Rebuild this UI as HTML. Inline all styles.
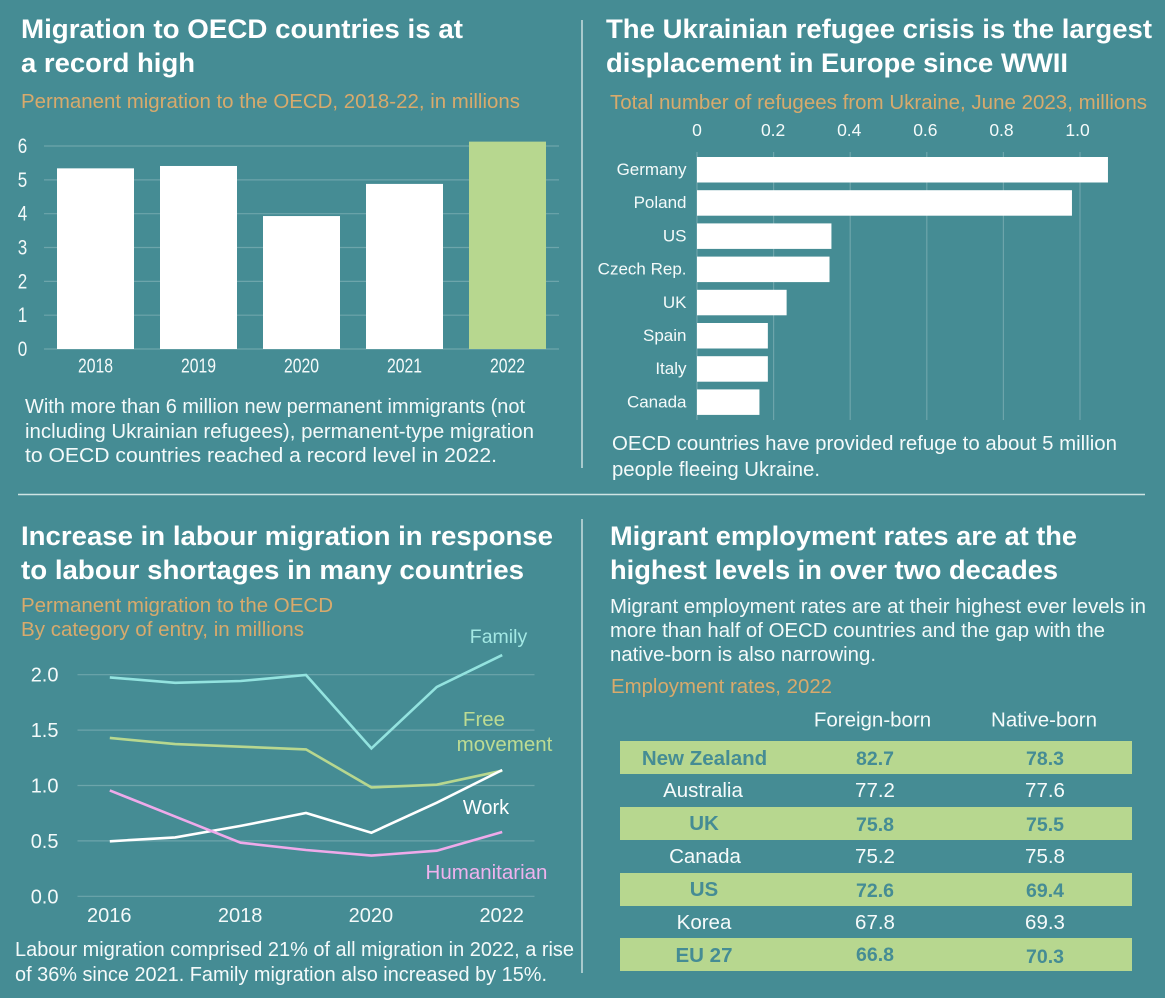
<!DOCTYPE html>
<html lang="en">
<head>
<meta charset="utf-8">
<title>Migration to OECD countries</title>
<style>
html,body{margin:0;padding:0;background:#458c94;}
svg{display:block;font-family:"Liberation Sans",Arial,sans-serif;filter:blur(0.35px);}
.title{font-size:27px;font-weight:700;fill:#fff;}
.sub{font-size:20px;fill:#d8aa6c;}
.note{font-size:20px;fill:#f4fafa;}
.hd{font-size:20.5px;fill:#f4fafa;text-anchor:middle;}
.gc{font-size:20.5px;fill:#458c94;text-anchor:middle;font-weight:700;}
.gv{font-size:19.5px;fill:#458c94;text-anchor:middle;font-weight:700;}
.wc{font-size:20.5px;fill:#f6fbfb;text-anchor:middle;}
</style>
</head>
<body>
<svg id="page" width="1165" height="998" viewBox="0 0 1165 998" xmlns="http://www.w3.org/2000/svg">
<rect width="1165" height="998" fill="#458c94"/>
<line x1="582" y1="20" x2="582" y2="468" stroke="#dcecec" stroke-width="1.3"/>
<line x1="582" y1="519" x2="582" y2="973" stroke="#dcecec" stroke-width="1.3"/>
<line x1="18" y1="494.500" x2="1145" y2="494.500" stroke="#cfe4e4" stroke-width="1.5"/>

<text class="title" x="21" y="38" textLength="442" lengthAdjust="spacingAndGlyphs">Migration to OECD countries is at</text>
<text class="title" x="21" y="72" textLength="174" lengthAdjust="spacingAndGlyphs">a record high</text>
<text class="sub" x="21" y="108" textLength="499" lengthAdjust="spacingAndGlyphs">Permanent migration to the OECD, 2018-22, in millions</text>
<g id="chart-bars"></g>
<text class="note" x="25" y="413" textLength="500" lengthAdjust="spacingAndGlyphs">With more than 6 million new permanent immigrants (not</text>
<text class="note" x="25" y="438" textLength="509" lengthAdjust="spacingAndGlyphs">including Ukrainian refugees), permanent-type migration</text>
<text class="note" x="25" y="462" textLength="472" lengthAdjust="spacingAndGlyphs">to OECD countries reached a record level in 2022.</text>

<text class="title" x="606" y="38" textLength="546" lengthAdjust="spacingAndGlyphs">The Ukrainian refugee crisis is the largest</text>
<text class="title" x="606" y="72" textLength="462" lengthAdjust="spacingAndGlyphs">displacement in Europe since WWII</text>
<text class="sub" x="610" y="109" textLength="537" lengthAdjust="spacingAndGlyphs">Total number of refugees from Ukraine, June 2023, millions</text>
<g id="chart-refugees"></g>
<text class="note" x="612" y="450" textLength="505" lengthAdjust="spacingAndGlyphs">OECD countries have provided refuge to about 5 million</text>
<text class="note" x="612" y="476" textLength="208" lengthAdjust="spacingAndGlyphs">people fleeing Ukraine.</text>

<text class="title" x="21" y="545" textLength="532" lengthAdjust="spacingAndGlyphs">Increase in labour migration in response</text>
<text class="title" x="21" y="579" textLength="503" lengthAdjust="spacingAndGlyphs">to labour shortages in many countries</text>
<text class="sub" x="21" y="612" textLength="312" lengthAdjust="spacingAndGlyphs">Permanent migration to the OECD</text>
<text class="sub" x="21" y="636" textLength="283" lengthAdjust="spacingAndGlyphs">By category of entry, in millions</text>
<g id="chart-lines"></g>
<text class="note" x="15" y="956" textLength="559" lengthAdjust="spacingAndGlyphs">Labour migration comprised 21% of all migration in 2022, a rise</text>
<text class="note" x="15" y="981" textLength="532" lengthAdjust="spacingAndGlyphs">of 36% since 2021. Family migration also increased by 15%.</text>

<text class="title" x="610" y="545" textLength="467" lengthAdjust="spacingAndGlyphs">Migrant employment rates are at the</text>
<text class="title" x="610" y="579" textLength="448" lengthAdjust="spacingAndGlyphs">highest levels in over two decades</text>
<text class="note" x="610" y="613" textLength="536" lengthAdjust="spacingAndGlyphs">Migrant employment rates are at their highest ever levels in</text>
<text class="note" x="610" y="637" textLength="495" lengthAdjust="spacingAndGlyphs">more than half of OECD countries and the gap with the</text>
<text class="note" x="610" y="661" textLength="266" lengthAdjust="spacingAndGlyphs">native-born is also narrowing.</text>
<text class="sub" x="611" y="693" textLength="221" lengthAdjust="spacingAndGlyphs">Employment rates, 2022</text>

<g>
<text class="hd" x="872.5" y="726.500">Foreign-born</text>
<text class="hd" x="1044" y="726.500">Native-born</text>
<rect x="620" y="741" width="512" height="33" fill="#b7d78f"/>
<rect x="620" y="807" width="512" height="33" fill="#b7d78f"/>
<rect x="620" y="873" width="512" height="33" fill="#b7d78f"/>
<rect x="620" y="938" width="512" height="33" fill="#b7d78f"/>
<text class="gc" x="704.5" y="765">New Zealand</text>
<text class="gv" x="875" y="765">82.7</text>
<text class="gv" x="1045" y="765">78.3</text>
<text class="wc" x="703" y="797">Australia</text>
<text class="wc" x="875" y="797">77.2</text>
<text class="wc" x="1045" y="797">77.6</text>
<text class="gc" x="704" y="830">UK</text>
<text class="gv" x="875" y="831">75.8</text>
<text class="gv" x="1045" y="831">75.5</text>
<text class="wc" x="705" y="863">Canada</text>
<text class="wc" x="875" y="863">75.2</text>
<text class="wc" x="1045" y="863">75.8</text>
<text class="gc" x="704" y="896">US</text>
<text class="gv" x="875" y="897">72.6</text>
<text class="gv" x="1045" y="897">69.4</text>
<text class="wc" x="704" y="929">Korea</text>
<text class="wc" x="875" y="929">67.8</text>
<text class="wc" x="1045" y="929">69.3</text>
<text class="gc" x="704" y="962">EU 27</text>
<text class="gv" x="875" y="961">66.8</text>
<text class="gv" x="1045" y="963">70.3</text>
</g>
</svg>

<script>
var yearCategories = ['2018', '2019', '2020', '2021', '2022'];
var yearValues = [5.34, 5.41, 3.93, 4.88, 6.13];
var yearTicks = [0, 1, 2, 3, 4, 5, 6];

var refugeeCountries = ['Germany', 'Poland', 'US', 'Czech Rep.', 'UK', 'Spain', 'Italy', 'Canada'];
var refugeeValues = [1.073, 0.979, 0.351, 0.346, 0.234, 0.185, 0.185, 0.163];
var refugeeTicks = [0, 0.2, 0.4, 0.6, 0.8, 1.0];
var refugeeTickLabels = ['0', '0.2', '0.4', '0.6', '0.8', '1.0'];

var lineYears = [2016, 2017, 2018, 2019, 2020, 2021, 2022];
var lineXTicks = [2016, 2018, 2020, 2022];
var lineYTicks = [0, 0.5, 1, 1.5, 2];
var lineYTickLabels = ['0.0', '0.5', '1.0', '1.5', '2.0'];
var familySeries = [1.976, 1.927, 1.943, 1.997, 1.335, 1.89, 2.177];
var freeMovementSeries = [1.43, 1.374, 1.35, 1.326, 0.983, 1.007, 1.134];
var workSeries = [0.496, 0.532, 0.635, 0.752, 0.574, 0.845, 1.14];
var humanitarianSeries = [0.956, 0.719, 0.484, 0.418, 0.367, 0.412, 0.58];

var SVGNS = 'http://www.w3.org/2000/svg';
var GRID = 'rgba(255,255,255,0.22)';

function make(parent, tag, props) {
  var el = document.createElementNS(SVGNS, tag);
  for (var k in props) { el.setAttribute(k, props[k]); }
  parent.appendChild(el);
  return el;
}

/* ---------- Chart 1: annual migration ---------- */
(function () {
  var g = document.getElementById('chart-bars');
  function y(v) { return 349 - v * 33.83; }
  function xCenter(i) { return 95.5 + i * 103; }
  yearTicks.forEach(function (t) {
    var el = make(g, 'line', {x1: 44, x2: 559, y1: y(t), y2: y(t), stroke: GRID, 'stroke-width': 1.2});
    
    
    var lab = make(g, 'text', {x: 22.5, y: y(t) + 7, 'font-size': 21, fill: '#f4fafa', 'text-anchor': 'middle', textLength: 9.5, lengthAdjust: 'spacingAndGlyphs'});
    lab.textContent = String(t);
    
    
  });
  yearCategories.forEach(function (c, i) {
    var top = y(yearValues[i]);
    var b = make(g, 'rect', {x: xCenter(i) - 38.5, y: top, width: 77, height: y(0) - top, fill: i === 4 ? '#b7d78f' : '#ffffff'});
    
    
    var lab = make(g, 'text', {x: xCenter(i), y: 372.5, 'font-size': 20.5, fill: '#f4fafa', 'text-anchor': 'middle', textLength: 35, lengthAdjust: 'spacingAndGlyphs'});
    lab.textContent = c;
    
    
  });
})();

/* ---------- Chart 2: refugees ---------- */
(function () {
  var g = document.getElementById('chart-refugees');
  function x(v) { return 697 + v * 383; }
  function yTop(i) { return 157 + i * 33.2; }
  refugeeTicks.forEach(function (t, i) {
    var el = make(g, 'line', {x1: x(t), x2: x(t), y1: 152, y2: 420, stroke: GRID, 'stroke-width': 1.2});
    
    
    var lab = make(g, 'text', {x: x(t) - t * 2.4, y: 136, 'font-size': 17.5, fill: '#f4fafa', 'text-anchor': 'middle'});
    lab.textContent = refugeeTickLabels[i];
    
    
  });
  refugeeCountries.forEach(function (c, i) {
    var b = make(g, 'rect', {x: x(0), y: yTop(i), width: x(refugeeValues[i]) - x(0), height: 25.5, fill: '#ffffff'});
    
    
    var lab = make(g, 'text', {x: 686.5, y: yTop(i) + 18, 'font-size': 17, fill: '#f4fafa', 'text-anchor': 'end'});
    lab.textContent = c;
    
    
  });
})();

/* ---------- Chart 3: categories ---------- */
(function () {
  var g = document.getElementById('chart-lines');
  function x(yr) { return 109.8 + (yr - 2016) * 65.4; }
  function y(v) { return 896.3 - v * 110.8; }
  lineYTicks.forEach(function (t, i) {
    var el = make(g, 'line', {x1: 77.5, x2: 534.5, y1: y(t), y2: y(t), stroke: GRID, 'stroke-width': 1.2});
    
    
    var lab = make(g, 'text', {x: 58.5, y: y(t) + 7, 'font-size': 20, fill: '#f4fafa', 'text-anchor': 'end'});
    lab.textContent = lineYTickLabels[i];
    
    
  });
  lineXTicks.forEach(function (t) {
    var lab = make(g, 'text', {x: x(t) - 0.5, y: 922, 'font-size': 20, fill: '#f4fafa', 'text-anchor': 'middle'});
    lab.textContent = String(t);
    
    
  });
  function pts(series) {
    return series.map(function (v, i) { return x(lineYears[i]).toFixed(1) + ',' + y(v).toFixed(1); }).join(' ');
  }
  var l1 = make(g, 'polyline', {points: pts(familySeries), fill: 'none', stroke: '#93e3df', 'stroke-width': 2.6});
  
  
  var l2 = make(g, 'polyline', {points: pts(freeMovementSeries), fill: 'none', stroke: '#b7d78f', 'stroke-width': 2.6});
  
  
  var l3 = make(g, 'polyline', {points: pts(workSeries), fill: 'none', stroke: '#ffffff', 'stroke-width': 2.6});
  
  
  var l4 = make(g, 'polyline', {points: pts(humanitarianSeries), fill: 'none', stroke: '#eeaaea', 'stroke-width': 2.6});
  
  

  var t1 = make(g, 'text', {x: 498.5, y: 643, 'font-size': 19.5, fill: '#a3e8e4', 'text-anchor': 'middle'});
  t1.textContent = 'Family';
  
  
  var t2 = make(g, 'text', {x: 484, y: 726, 'font-size': 20.5, fill: '#bddb93', 'text-anchor': 'middle'});
  t2.textContent = 'Free';
  
  
  var t3 = make(g, 'text', {x: 504.5, y: 751, 'font-size': 20.5, fill: '#bddb93', 'text-anchor': 'middle'});
  t3.textContent = 'movement';
  
  
  var t4 = make(g, 'text', {x: 486, y: 814, 'font-size': 20, fill: '#ffffff', 'text-anchor': 'middle'});
  t4.textContent = 'Work';
  
  
  var t5 = make(g, 'text', {x: 486.5, y: 879, 'font-size': 20.5, fill: '#f0b2ee', 'text-anchor': 'middle'});
  t5.textContent = 'Humanitarian';
  
  
})();
</script>
</body>
</html>
